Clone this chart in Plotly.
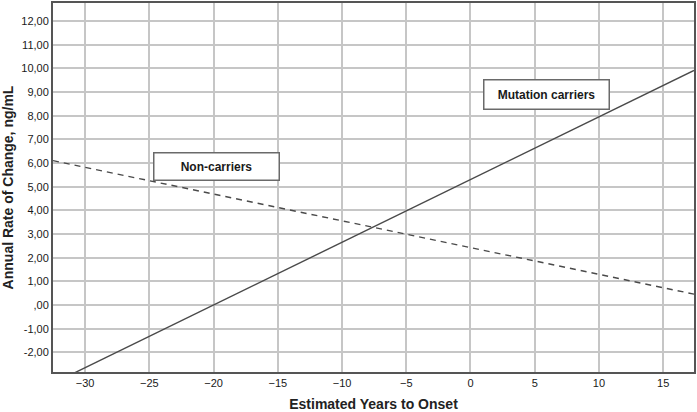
import plotly.graph_objects as go

# fitted lines (endpoints at the plot edges)
years = [-32.5, 17.4]
carriers = [-3.31, 9.91]
non_carriers = [6.1, 0.46]

x_ticks = [-30, -25, -20, -15, -10, -5, 0, 5, 10, 15]
y_ticks = [-2, -1, 0, 1, 2, 3, 4, 5, 6, 7, 8, 9, 10, 11, 12]
y_labels = ["-2,00", "-1,00", ",00", "1,00", "2,00", "3,00", "4,00", "5,00",
            "6,00", "7,00", "8,00", "9,00", "10,00", "11,00", "12,00"]

fig = go.Figure()

fig.add_trace(go.Scatter(
    x=years, y=carriers, mode="lines",
    line=dict(color="#4a4a4a", width=1.4),
    name="Mutation carriers"
))
fig.add_trace(go.Scatter(
    x=years, y=non_carriers, mode="lines",
    line=dict(color="#4a4a4a", width=1.4, dash="6px,5px"),
    name="Non-carriers"
))

box = dict(
    showarrow=False,
    font=dict(family="Liberation Sans, Arial", size=12, color="#1a1a1a"),
    bgcolor="white",
    bordercolor="#6a6a6a",
    borderwidth=1.5,
    xref="x", yref="y",
)
fig.add_annotation(text="<b>Non-carriers</b>", x=-19.8, y=5.85,
                   width=122, height=24, **box)
fig.add_annotation(text="<b>Mutation carriers</b>", x=5.9, y=8.9,
                   width=122, height=26, **box)

fig.update_layout(
    width=697, height=412,
    margin=dict(l=53, r=1, t=2, b=40),
    paper_bgcolor="white",
    plot_bgcolor="white",
    showlegend=False,
    font=dict(family="Liberation Sans, Arial", size=11, color="#222"),
)

fig.update_xaxes(
    range=[-32.5, 17.4],
    tickvals=x_ticks,
    showgrid=True, gridcolor="#c6c6c6", gridwidth=1.5,
    zeroline=False,
    showline=True, linecolor="#555", linewidth=2, mirror=True,
    ticks="", ticklen=0,
    tickfont=dict(size=11, color="#1a1a1a"),
    title=dict(text="<b>Estimated Years to Onset</b>",
               font=dict(size=14, color="#222"), standoff=11),
)
fig.update_yaxes(
    range=[-2.83, 12.76],
    tickvals=y_ticks, ticktext=y_labels,
    showgrid=True, gridcolor="#c6c6c6", gridwidth=1.5,
    zeroline=False,
    showline=True, linecolor="#555", linewidth=2, mirror=True,
    ticks="", ticklen=0,
    tickfont=dict(size=11, color="#1a1a1a"),
    title=dict(text="<b>Annual Rate of Change, ng/mL</b>",
               font=dict(size=14, color="#222"), standoff=6),
)

# page body has a default 8px margin; drop it so the chart sits at 0,0
fig.write_html("out.html", config={"displayModeBar": False},
               post_script="document.body.style.margin='0';")
